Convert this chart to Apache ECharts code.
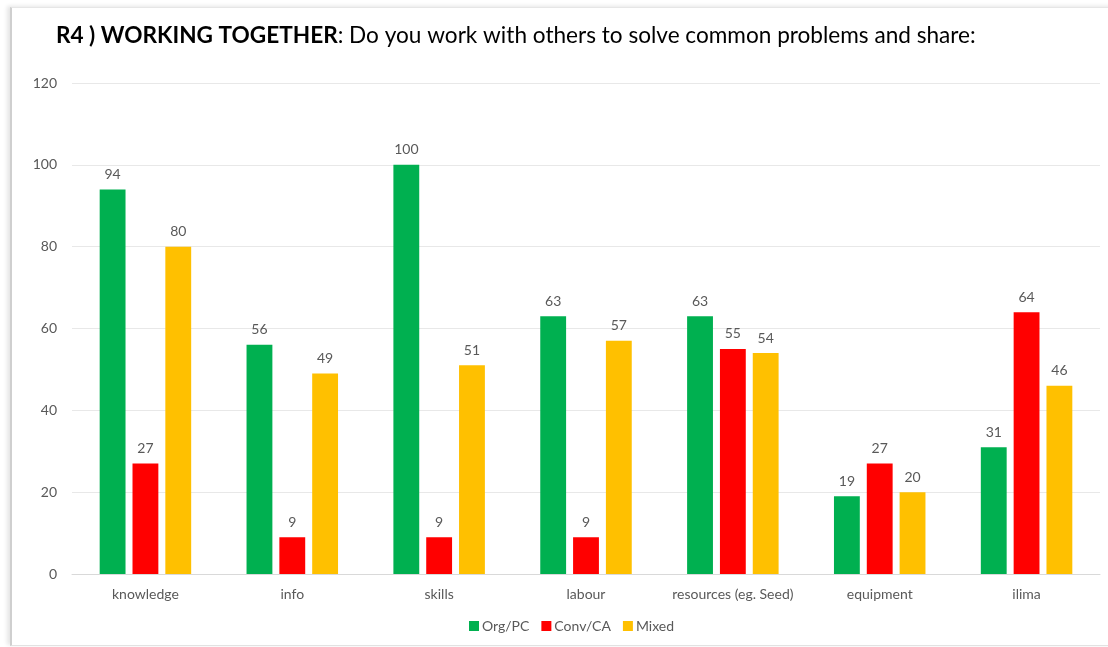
<!DOCTYPE html>
<html>
<head>
<meta charset="utf-8">
<script src="https://cdn.jsdelivr.net/npm/echarts@6/dist/echarts.min.js"></script>
<style>
  html, body { margin: 0; padding: 0; background: #fff; }
  #wrap { position: relative; width: 1108px; height: 647px; overflow: hidden; }
  #frame {
    position: absolute; left: 10px; top: 7px; width: 1110px; height: 637px;
    border-left: 2px solid #cfcfcf; border-top: 1px solid #e6e6e6; border-bottom: 1px solid #e2e2e2;
    box-shadow: -3px -1px 4px rgba(0,0,0,0.10);
    pointer-events: none;
  }
  #chart { position: absolute; left: 0; top: 0; width: 1108px; height: 647px; }
</style>
</head>
<body>
<div id="wrap">
  <div id="frame"></div>
  <div id="chart"></div>
</div>
<script>
const categories = ['knowledge', 'info', 'skills', 'labour', 'resources (eg. Seed)', 'equipment', 'ilima'];
const orgPC  = [94, 56, 100, 63, 63, 19, 31];
const convCA = [27, 9, 9, 9, 55, 27, 64];
const mixed  = [80, 49, 51, 57, 54, 20, 46];
const seriesNames = ['Org/PC', 'Conv/CA', 'Mixed'];
const yTicks = { min: 0, max: 120, interval: 20 };

const colors = ['#00B050', '#FF0000', '#FFC000'];
const font = 'Lato, "Open Sans", sans-serif';

function barSeries(name, data, color) {
  return {
    name: name,
    type: 'bar',
    data: data,
    barWidth: '17.6%',
    barGap: '27%',
    itemStyle: { color: color },
    label: {
      show: true, position: 'top', distance: 8,
      color: '#595959', fontSize: 14, fontFamily: font
    }
  };
}

const chart = echarts.init(document.getElementById('chart'), null, { renderer: 'canvas' });
chart.setOption({
  animation: false,
  color: colors,
  title: {
    left: 51, top: 19,
    text: '{b|R4 ) WORKING TOGETHER}{n|: Do you work with others to solve common problems and share:}',
    textStyle: {
      rich: {
        b: { fontFamily: font, fontSize: 22.6, fontWeight: 'bold', color: '#000' },
        n: { fontFamily: font, fontSize: 22.6, fontWeight: 'normal', color: '#000' }
      }
    }
  },
  legend: {
    data: seriesNames,
    bottom: 9, left: 464,
    itemWidth: 10, itemHeight: 10, itemGap: 12,
    icon: 'rect',
    textStyle: { color: '#595959', fontSize: 14, fontFamily: font, padding: [0, 0, 0, -2] }
  },
  grid: { left: 72, right: 8, top: 83, bottom: 73, containLabel: false },
  xAxis: {
    type: 'category',
    data: categories,
    axisLine: { lineStyle: { color: '#d9d9d9', width: 1 } },
    axisTick: { show: false },
    axisLabel: { interval: 0, color: '#595959', fontSize: 14, fontFamily: font, margin: 13 }
  },
  yAxis: {
    type: 'value',
    min: yTicks.min, max: yTicks.max, interval: yTicks.interval,
    axisLine: { show: false },
    axisTick: { show: false },
    splitLine: { lineStyle: { color: '#e8e8e8', width: 1 } },
    axisLabel: { color: '#595959', fontSize: 14, fontFamily: font, margin: 15 }
  },
  series: [
    barSeries(seriesNames[0], orgPC, colors[0]),
    barSeries(seriesNames[1], convCA, colors[1]),
    barSeries(seriesNames[2], mixed, colors[2])
  ]
});
</script>
</body>
</html>
